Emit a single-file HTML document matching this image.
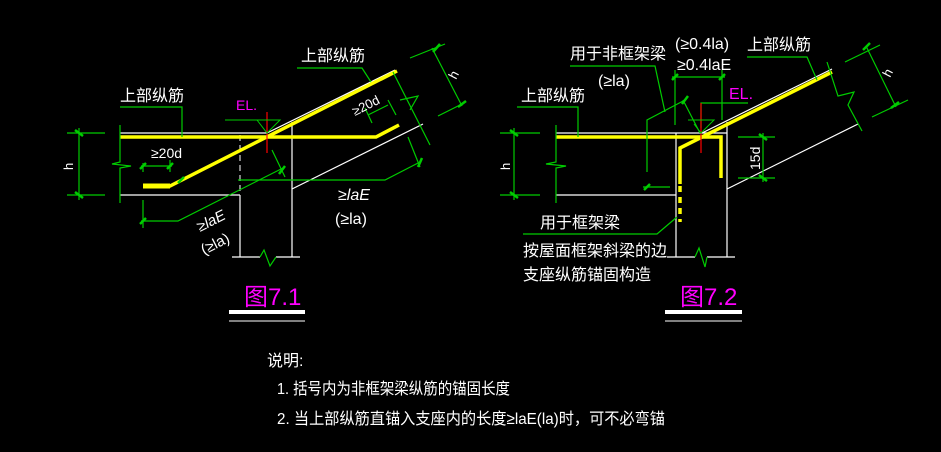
<!DOCTYPE html>
<html><head><meta charset="utf-8"><style>
html,body{margin:0;padding:0;background:#000;width:941px;height:452px;overflow:hidden}
svg{display:block}
text{font-family:"Liberation Sans","Noto Sans CJK SC",sans-serif;fill:#fff}
</style></head><body>
<svg width="941" height="452" viewBox="0 0 941 452" xmlns="http://www.w3.org/2000/svg">
<g stroke-linecap="butt" fill="none">
<g stroke="#fff" stroke-width="1.2">
<line x1="120" y1="133" x2="267" y2="133"/>
<line x1="267" y1="133" x2="395" y2="70"/>
<line x1="292" y1="122" x2="292" y2="257"/>
<line x1="120" y1="195" x2="240" y2="195"/>
<line x1="240" y1="195" x2="240" y2="257"/>
<line x1="292" y1="189" x2="423" y2="124"/>
<line x1="232" y1="257" x2="260" y2="257"/>
<line x1="276" y1="257" x2="300" y2="257"/>
</g>
<line x1="240" y1="135" x2="240" y2="195" stroke="#fff" stroke-dasharray="6,4"/>
<line x1="292" y1="135" x2="292" y2="185" stroke="#fff" stroke-dasharray="6,4"/>
<polyline points="260,257 264,250 270,266 276,257" stroke="#0c0" stroke-width="1.2"/>
<g stroke="#ff0" stroke-width="3.5">
<polyline points="120,137 376,137 399,125"/>
<polyline points="143,186 170,186 397,71"/>
</g>
<line x1="143" y1="186" x2="170" y2="186" stroke="#ff0" stroke-width="5"/>
<g stroke="#0c0" stroke-width="1.2">
<polyline points="120,125 120,162 112,164 131,166 120,168 120,203"/>
<line x1="67" y1="133" x2="105" y2="133"/><line x1="67" y1="195" x2="105" y2="195"/>
<line x1="79" y1="128" x2="79" y2="200"/>
<polyline points="120,107 182,107 182,137"/>
<polyline points="297,68 362,68 371,82"/>
<line x1="143" y1="163" x2="143" y2="172"/><line x1="170" y1="160" x2="170" y2="172"/>
<line x1="141" y1="166" x2="172" y2="166"/>
<line x1="143" y1="200" x2="143" y2="228"/>
<polyline points="141,221 178,221 283,168"/>
<line x1="272" y1="150" x2="285" y2="177"/>
<polyline points="238,180 385,180 420,162"/>
<line x1="408" y1="137" x2="420" y2="167"/>
<line x1="393" y1="72" x2="430" y2="145"/>
<polyline points="400,100 418,96 410,110"/>
<line x1="368" y1="115" x2="388" y2="105"/>
<line x1="365" y1="108" x2="372" y2="123"/><line x1="388" y1="100" x2="396" y2="115"/>
<line x1="410" y1="58" x2="445" y2="44"/><line x1="438" y1="116" x2="462" y2="104"/>
<line x1="432" y1="48" x2="462" y2="106"/>
</g>
<g stroke="#0c0" stroke-width="2.5">
<line x1="75" y1="130" x2="83" y2="136"/><line x1="75" y1="192" x2="83" y2="198"/>
<line x1="140" y1="169" x2="146" y2="163"/><line x1="167" y1="169" x2="173" y2="163"/>
<line x1="140" y1="224" x2="146" y2="218"/><line x1="279" y1="174" x2="285" y2="166"/>
<line x1="178" y1="183" x2="184" y2="177"/><line x1="418" y1="167" x2="422" y2="158"/>
<line x1="433" y1="52" x2="440" y2="44"/><line x1="458" y1="107" x2="466" y2="101"/>
</g>
<line x1="267" y1="112" x2="267" y2="153" stroke="#f00" stroke-width="1.2"/>
<polyline points="225,120 280,120 267,133 257,120" stroke="#0c0" stroke-width="1"/>
<rect x="229" y="310" width="76" height="4" fill="#fff" stroke="none"/>
<line x1="229" y1="321" x2="305" y2="321" stroke="#fff" stroke-width="1"/>

<g stroke="#fff" stroke-width="1.2">
<line x1="556" y1="133" x2="727" y2="133"/>
<line x1="702" y1="133" x2="832" y2="69"/>
<line x1="556" y1="195" x2="676" y2="195"/>
<line x1="676" y1="133" x2="676" y2="257"/>
<line x1="727" y1="122" x2="727" y2="257"/>
<line x1="727" y1="189" x2="858" y2="124"/>
<line x1="667" y1="257" x2="695" y2="257"/>
<line x1="707" y1="257" x2="735" y2="257"/>
</g>
<polyline points="695,257 699,248 705,267 707,257" stroke="#0c0" stroke-width="1.2"/>
<g stroke="#ff0" stroke-width="3.5">
<polyline points="556,137 721,137 721,178"/>
<polyline points="680,184 680,148 702,137 832,72"/>
<line x1="680" y1="186" x2="680" y2="222" stroke-dasharray="6,5"/>
</g>
<g stroke="#0c0" stroke-width="1.2">
<polyline points="556,125 556,162 546,164 566,166 556,168 556,203"/>
<line x1="500" y1="133" x2="540" y2="133"/><line x1="500" y1="195" x2="540" y2="195"/>
<line x1="514" y1="128" x2="514" y2="200"/>
<polyline points="517,107 578,107 578,137"/>
<polyline points="570,66 655,66 665,112"/>
<polyline points="647,172 647,120 685,100"/>
<line x1="643" y1="187" x2="670" y2="187"/>
<line x1="683" y1="100" x2="700" y2="133"/>
<line x1="675" y1="70" x2="675" y2="125"/><line x1="722" y1="70" x2="722" y2="120"/>
<line x1="672" y1="77" x2="725" y2="77"/>
<polyline points="701,128 701,103 748,103"/>
<polyline points="747,57 807,57 817,80"/>
<polyline points="827,62 838,96 854,92 848,105 862,131"/>
<line x1="845" y1="62" x2="880" y2="45"/><line x1="872" y1="117" x2="908" y2="100"/>
<line x1="866" y1="46" x2="896" y2="107"/>
<line x1="738" y1="137" x2="775" y2="137"/><line x1="738" y1="178" x2="775" y2="178"/>
<line x1="763" y1="133" x2="763" y2="182"/>
<polyline points="523,234 657,234 677,217"/>
</g>
<g stroke="#0c0" stroke-width="2.5">
<line x1="510" y1="130" x2="518" y2="136"/><line x1="510" y1="192" x2="518" y2="198"/>
<line x1="644" y1="190" x2="650" y2="184"/><line x1="682" y1="104" x2="688" y2="96"/>
<line x1="672" y1="80" x2="678" y2="74"/><line x1="719" y1="80" x2="725" y2="74"/>
<line x1="759" y1="134" x2="767" y2="140"/><line x1="759" y1="175" x2="767" y2="181"/>
<line x1="863" y1="50" x2="870" y2="43"/><line x1="891" y1="108" x2="899" y2="102"/>
</g>
<line x1="701" y1="103" x2="701" y2="153" stroke="#f00" stroke-width="1.2"/>
<polyline points="688,120 714,120 701,133 694,124" stroke="#0c0" stroke-width="1"/>
<rect x="665" y="310" width="77" height="4" fill="#fff" stroke="none"/>
<line x1="665" y1="321" x2="742" y2="321" stroke="#fff" stroke-width="1"/>
</g>

<text x="120" y="101" font-size="16">上部纵筋</text>
<text x="301" y="61" font-size="16">上部纵筋</text>
<text x="236" y="110" font-size="14" style="fill:#f0f">EL.</text>
<text x="151" y="158" font-size="14">≥20d</text>
<text x="0" y="0" font-size="13" transform="translate(355,116) rotate(-27)">≥20d</text>
<text x="0" y="0" font-size="13" transform="translate(73,170) rotate(-90)">h</text>
<text x="0" y="0" font-size="13" transform="translate(456,80) rotate(-63)">h</text>
<text x="338" y="200" font-size="16" font-style="italic">≥laE</text>
<text x="335" y="224" font-size="16">(≥la)</text>
<text x="0" y="0" font-size="15" font-style="italic" transform="translate(200,232) rotate(-27)">≥laE</text>
<text x="0" y="0" font-size="15" transform="translate(204,255) rotate(-27)">(≥la)</text>
<text x="244" y="305" font-size="24" style="fill:#f0f">图7.1</text>

<text x="570" y="59" font-size="16">用于非框架梁</text>
<text x="598" y="86" font-size="16">(≥la)</text>
<text x="675" y="49" font-size="16">(≥0.4la)</text>
<text x="677" y="70" font-size="16">≥0.4laE</text>
<text x="747" y="50" font-size="16">上部纵筋</text>
<text x="521" y="101" font-size="16">上部纵筋</text>
<text x="729" y="99" font-size="16" style="fill:#f0f">EL.</text>
<text x="0" y="0" font-size="13" transform="translate(510,170) rotate(-90)">h</text>
<text x="0" y="0" font-size="13" transform="translate(890,78) rotate(-63)">h</text>
<text x="0" y="0" font-size="14" transform="translate(760,170) rotate(-90)">15d</text>
<text x="540" y="228" font-size="16">用于框架梁</text>
<text x="523" y="256" font-size="16">按屋面框架斜梁的边</text>
<text x="523" y="280" font-size="16">支座纵筋锚固构造</text>
<text x="680" y="305" font-size="24" style="fill:#f0f">图7.2</text>

<text x="267" y="366" font-size="16">说明:</text>
<text x="277" y="394" font-size="16" textLength="233" lengthAdjust="spacingAndGlyphs">1. 括号内为非框架梁纵筋的锚固长度</text>
<text x="277" y="424" font-size="16" textLength="388" lengthAdjust="spacingAndGlyphs">2. 当上部纵筋直锚入支座内的长度≥laE(la)时，可不必弯锚</text>
<text x="80" y="466" font-size="16">以图某规范中未涉及的构造做法可以详图</text>
<text x="90" y="-3" font-size="14">本图有关的其中框架梁的框架梁梁截面与框架梁的构造要求等处理</text>
</svg>
</body></html>
